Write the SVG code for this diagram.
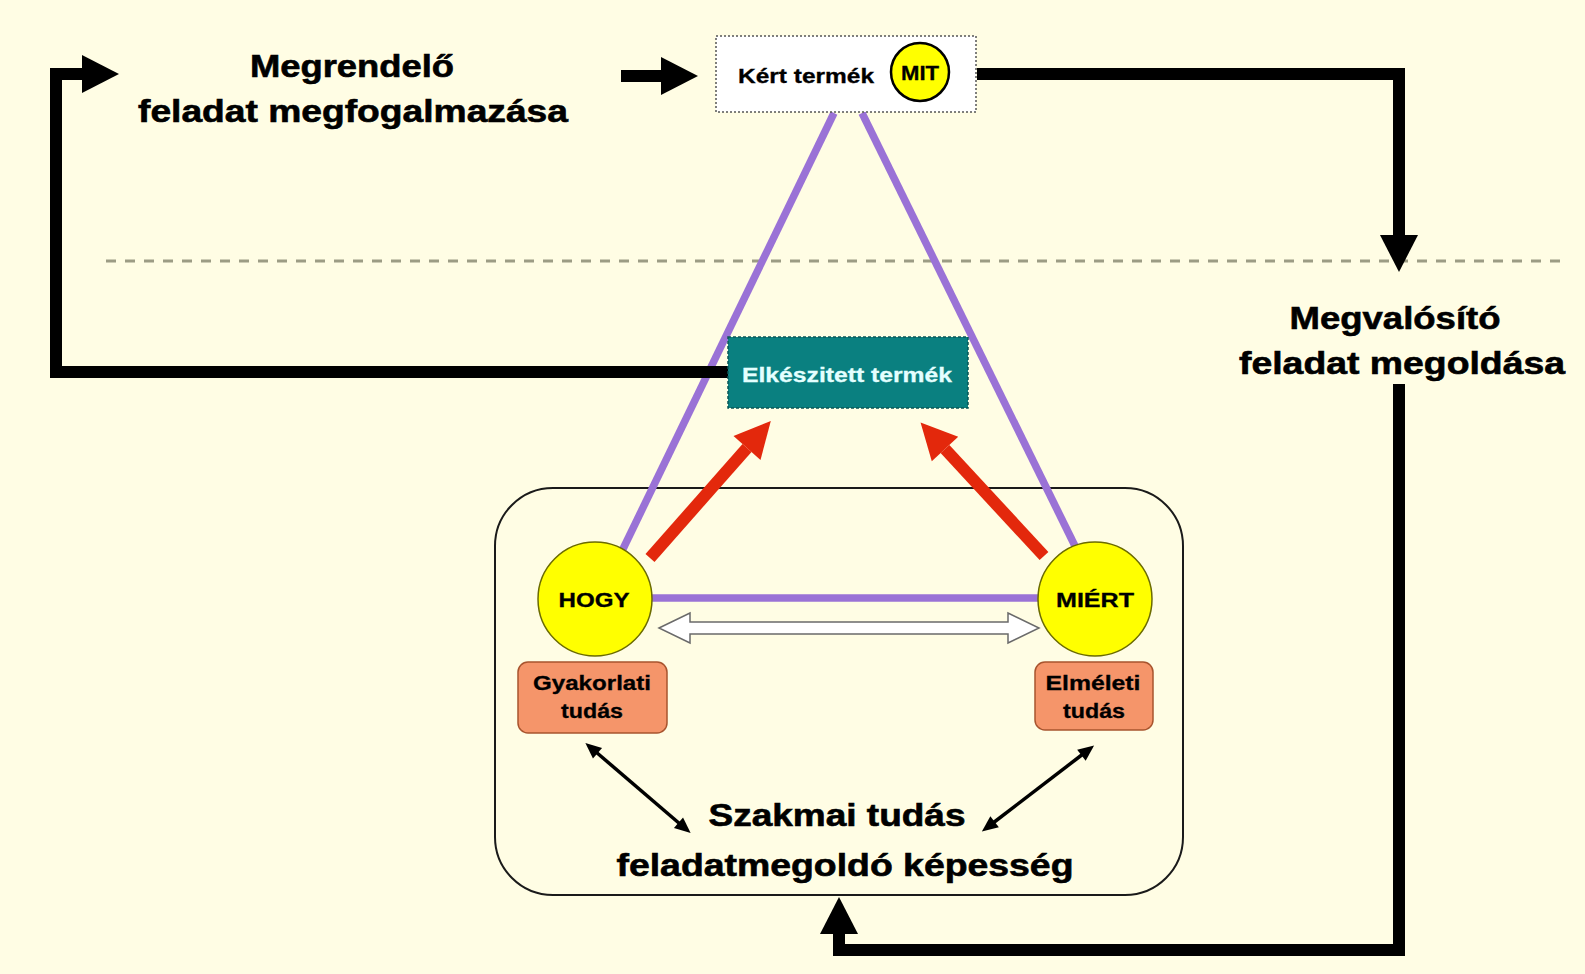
<svg xmlns="http://www.w3.org/2000/svg" width="1585" height="974" viewBox="0 0 1585 974">
<style>
.t{font-family:"Liberation Sans",Arial,sans-serif;font-weight:bold;fill:#000;text-anchor:middle}
.big{font-size:31px;stroke:#000;stroke-width:0.6}
.sm{font-size:20px;stroke:#000;stroke-width:0.3}
.blk{fill:none;stroke:#000;stroke-width:12;stroke-linejoin:miter}
.pur{stroke:#9A72D6;stroke-width:7.5;fill:none}
.red{stroke:#E3280C;stroke-width:12;fill:none}
.thin{stroke:#000;stroke-width:3.5;fill:none}
</style>
<defs>
<marker id="bigHead" markerUnits="userSpaceOnUse" markerWidth="40" markerHeight="40" refX="0" refY="19" orient="auto" overflow="visible">
<path d="M0,0 L37,19 L0,38 Z" fill="#000"/>
</marker>
<marker id="redHead" markerUnits="userSpaceOnUse" markerWidth="40" markerHeight="40" refX="0" refY="18" orient="auto" overflow="visible">
<path d="M0,0 L36,18 L0,36 Z" fill="#E3280C"/>
</marker>
<marker id="smHead" markerUnits="userSpaceOnUse" markerWidth="18" markerHeight="16" refX="2" refY="7" orient="auto-start-reverse" overflow="visible">
<path d="M0,0 L16,7 L0,14 Z" fill="#000"/>
</marker>
</defs>
<rect x="0" y="0" width="1585" height="974" fill="#FFFDE4"/>

<line x1="106" y1="261" x2="1562" y2="261" stroke="#9C9C84" stroke-width="3" stroke-dasharray="10 9"/>

<g id="frame">
<rect x="495" y="488" width="688" height="407" rx="58" ry="58" fill="none" stroke="#1A1A1A" stroke-width="2"/>
</g>

<g id="triangle">
<line class="pur" x1="834" y1="113" x2="622" y2="551"/>
<line class="pur" x1="862" y1="113" x2="1075" y2="546"/>
<line class="pur" x1="650" y1="598" x2="1042" y2="598"/>
</g>

<g id="connectors">
<path class="blk" d="M728,372 H56 V74 H82" marker-end="url(#bigHead)"/>
<path class="blk" d="M621,76 H661" marker-end="url(#bigHead)"/>
<path class="blk" d="M977,74 H1399 V235" marker-end="url(#bigHead)"/>
<path class="blk" d="M1399,384 V950 H839 V934" marker-end="url(#bigHead)"/>
<line class="red" x1="650" y1="558" x2="747" y2="448" marker-end="url(#redHead)"/>
<line class="red" x1="1044" y1="556" x2="945" y2="449" marker-end="url(#redHead)"/>
<polygon points="659,628 690,613 690,622 1008,622 1008,613 1039,628 1008,643 1008,634 690,634 690,643" fill="#FFFFFF" stroke="#6A6A6A" stroke-width="1.5"/>
<line class="thin" x1="596" y1="752" x2="680" y2="824" marker-start="url(#smHead)" marker-end="url(#smHead)"/>
<line class="thin" x1="1083" y1="754" x2="993" y2="823" marker-start="url(#smHead)" marker-end="url(#smHead)"/>
</g>

<g id="megrendelo">
<text class="t big" x="352" y="77" textLength="204" lengthAdjust="spacingAndGlyphs">Megrendelő</text>
<text class="t big" x="353" y="122" textLength="430" lengthAdjust="spacingAndGlyphs">feladat megfogalmazása</text>
</g>

<g id="kert-termek">
<rect x="716" y="36" width="260" height="76" fill="#FFFFFF" stroke="#555" stroke-width="1.5" stroke-dasharray="2 2"/>
<text class="t sm" x="806" y="83" textLength="136" lengthAdjust="spacingAndGlyphs">Kért termék</text>
<circle cx="920" cy="72" r="29" fill="#FFFF00" stroke="#000" stroke-width="2.5"/>
<text class="t sm" x="920" y="80" textLength="38" lengthAdjust="spacingAndGlyphs">MIT</text>
</g>

<g id="megvalosito">
<text class="t big" x="1395" y="329" textLength="211" lengthAdjust="spacingAndGlyphs">Megvalósító</text>
<text class="t big" x="1402" y="374" textLength="326" lengthAdjust="spacingAndGlyphs">feladat megoldása</text>
</g>

<g id="elkeszitett">
<rect x="728" y="337" width="240" height="71" fill="#0A8080" stroke="#0A5555" stroke-width="1.5" stroke-dasharray="3 2"/>
<text class="t sm" x="847" y="382" textLength="210" lengthAdjust="spacingAndGlyphs" style="fill:#E4FFFF;stroke:#E4FFFF">Elkészitett termék</text>
</g>

<g id="hogy">
<circle cx="595" cy="599" r="57" fill="#FFFF00" stroke="#6B6B00" stroke-width="1.5"/>
<text class="t sm" x="594" y="607" textLength="71" lengthAdjust="spacingAndGlyphs">HOGY</text>
</g>

<g id="miert">
<circle cx="1095" cy="599" r="57" fill="#FFFF00" stroke="#6B6B00" stroke-width="1.5"/>
<text class="t sm" x="1095" y="607" textLength="78" lengthAdjust="spacingAndGlyphs">MIÉRT</text>
</g>

<g id="gyakorlati">
<rect x="518" y="662" width="149" height="71" rx="10" ry="10" fill="#F5956A" stroke="#A8542E" stroke-width="1.5"/>
<text class="t sm" x="592" y="690" textLength="118" lengthAdjust="spacingAndGlyphs">Gyakorlati</text>
<text class="t sm" x="592" y="718" textLength="62" lengthAdjust="spacingAndGlyphs">tudás</text>
</g>

<g id="elmeleti">
<rect x="1035" y="662" width="118" height="68" rx="10" ry="10" fill="#F5956A" stroke="#A8542E" stroke-width="1.5"/>
<text class="t sm" x="1093" y="690" textLength="95" lengthAdjust="spacingAndGlyphs">Elméleti</text>
<text class="t sm" x="1094" y="718" textLength="62" lengthAdjust="spacingAndGlyphs">tudás</text>
</g>

<g id="szakmai">
<text class="t big" x="837" y="826" textLength="257" lengthAdjust="spacingAndGlyphs">Szakmai tudás</text>
<text class="t big" x="845" y="876" textLength="457" lengthAdjust="spacingAndGlyphs">feladatmegoldó képesség</text>
</g>
</svg>
